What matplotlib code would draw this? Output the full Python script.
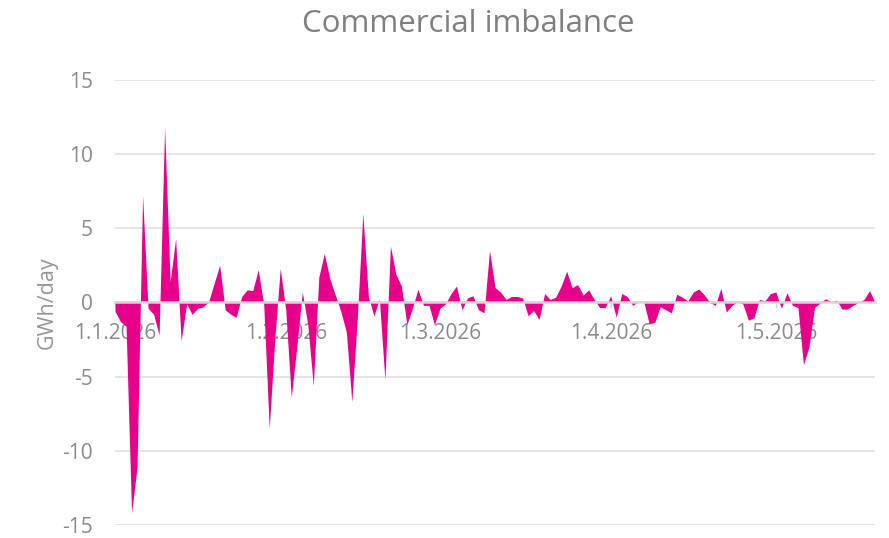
import pandas as pd
import matplotlib.pyplot as plt

# daily commercial imbalance, GWh/day, from 1.1.2026
start = '2026-01-01'
values = [
    -0.6, -1.3, -1.6, -14.2, -11.1, 7.2, -0.4, -0.8, -2.2, 11.8,
    1.4, 4.3, -2.6, -0.1, -0.8, -0.4, -0.3, 0.05, 1.3, 2.5,
    -0.5, -0.8, -1.0, 0.4, 0.85, 0.8, 2.2, -0.15, -8.5, -2.5,
    2.3, -0.5, -6.4, -3.0, 0.7, -1.5, -5.6, 1.7, 3.3, 1.6,
    0.5, -0.6, -2.0, -6.7, -1.0, 6.0, 0.4, -0.9, 0.2, -5.2,
    3.8, 1.9, 1.1, -1.5, -0.4, 0.9, -0.2, -0.2, -1.5, -0.4,
    -0.1, 0.6, 1.1, -0.5, 0.3, 0.45, -0.5, -0.7, 3.5, 1.0,
    0.7, 0.2, 0.4, 0.4, 0.3, -0.9, -0.55, -1.15, 0.6, 0.2,
    0.35, 1.1, 2.1, 1.0, 1.2, 0.5, 0.85, 0.2, -0.35, -0.35,
    0.45, -1.0, 0.6, 0.4, -0.2, 0.05, 0.05, -1.45, -1.35, -0.3,
    -0.5, -0.7, 0.55, 0.35, 0.1, 0.7, 0.9, 0.5, 0.0, -0.2,
    0.95, -0.65, -0.2, 0.05, -0.1, -1.2, -1.05, 0.2, 0.1, 0.6,
    0.7, -0.4, 0.65, -0.2, -0.35, -4.2, -3.0, -0.35, -0.05, 0.25,
    0.05, 0.15, -0.45, -0.45, -0.2, 0.0, 0.2, 0.8, 0.0,
]
dates = pd.date_range(start, periods=len(values), freq='D')

tick_dates = pd.to_datetime(['2026-01-01', '2026-02-01', '2026-03-01', '2026-04-01', '2026-05-01'])
tick_labels = ['1.1.2026', '1.2.2026', '1.3.2026', '1.4.2026', '1.5.2026']
y_ticks = [-15, -10, -5, 0, 5, 10, 15]

plt.rcParams['font.family'] = ['Open Sans', 'DejaVu Sans']
plt.rcParams['axes.unicode_minus'] = False

fig = plt.figure(figsize=(8.89, 5.38), dpi=100)
ax = fig.add_axes([0.1294, 0.0245, 0.8549, 0.8268])

ax.fill_between(dates, values, 0, color='#E6008A', linewidth=0, zorder=2)

ax.set_xlim(dates[0], dates[-1])
ax.set_ylim(-15, 15)
ax.set_yticks(y_ticks)
ax.grid(axis='y', color='#e3e3e3', linewidth=1.3, zorder=0)
ax.set_axisbelow(True)

for side in ['left', 'right', 'top']:
    ax.spines[side].set_visible(False)
ax.spines['bottom'].set_position(('data', 0))
ax.spines['bottom'].set_color('#d6d6d6')
ax.spines['bottom'].set_linewidth(1.8)
ax.spines['bottom'].set_zorder(3)

ax.set_xticks(tick_dates)
ax.set_xticklabels(tick_labels)
ax.tick_params(axis='x', length=4, width=1, color='#d6d6d6', pad=11,
               labelsize=15, labelcolor='#8a8a8a')
ax.tick_params(axis='y', length=0, pad=16, labelsize=15, labelcolor='#8a8a8a')

ax.set_ylabel('GWh/day', fontsize=15.5, color='#959595')
ax.yaxis.set_label_coords(-0.076, 0.5)

fig.text(0.527, 0.955, 'Commercial imbalance', ha='center', va='center',
         fontsize=22.5, color='#7f7f7f')

fig.savefig('out.png', dpi=100)
